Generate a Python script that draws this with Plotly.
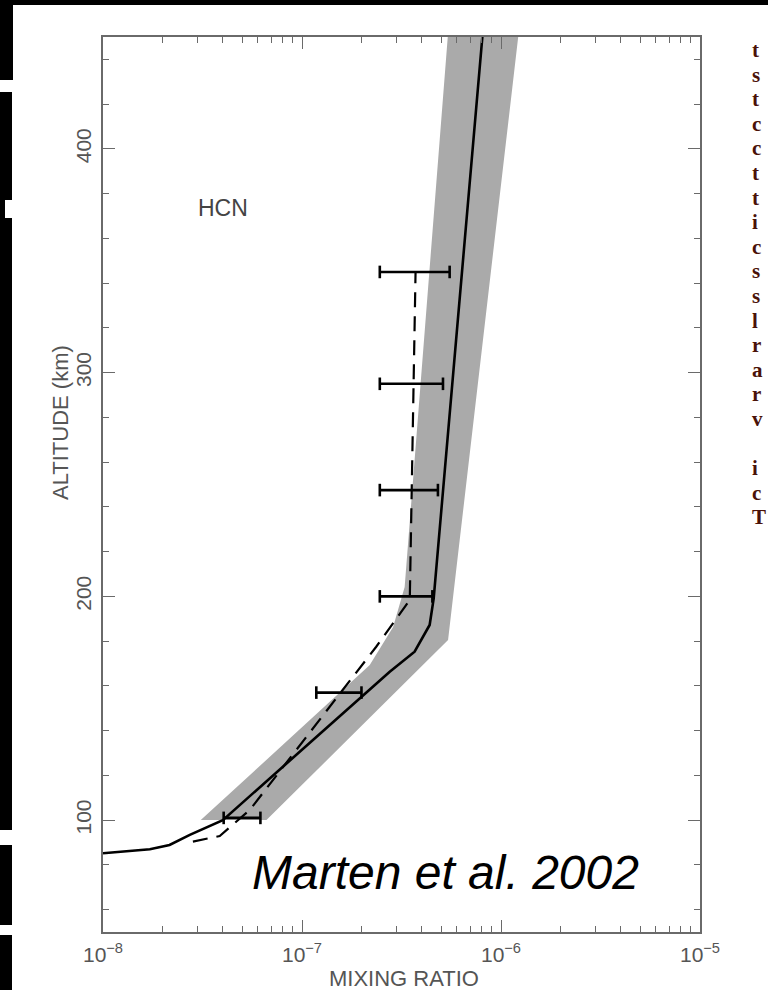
import plotly.graph_objects as go

# ---------------- data ----------------
# model profile (solid)
MODEL_ALT = [85.2, 87.0, 88.9, 93.4, 100.0, 166.3, 175.3, 187.2, 199.1, 450.0]
MODEL_X = [1.0e-8, 1.72e-8, 2.16e-8, 2.73e-8, 4.0e-8, 2.76e-7, 3.68e-7, 4.38e-7, 4.59e-7, 8.06e-7]

# retrieved profile (dashed)
DASH_ALT = [90.4, 92.9, 104.5, 177.5, 198.4, 344.5]
DASH_X = [2.83e-8, 3.86e-8, 5.46e-8, 2.36e-7, 3.48e-7, 3.72e-7]

# uncertainty envelope (grey band)
BAND_LEFT_ALT = [100.0, 169.3, 186.3, 204.2, 450.0]
BAND_LEFT_X = [3.1e-8, 2.19e-7, 2.87e-7, 3.28e-7, 5.4e-7]
BAND_RIGHT_ALT = [100.0, 180.5, 450.0]
BAND_RIGHT_X = [6.63e-8, 5.42e-7, 1.22e-6]

# horizontal error bars
EB_ALT = [345.0, 295.0, 247.5, 200.0, 157.0, 101.0]
EB_LO = [2.46e-7, 2.46e-7, 2.46e-7, 2.46e-7, 1.18e-7, 4.04e-8]
EB_HI = [5.52e-7, 5.11e-7, 4.82e-7, 4.52e-7, 1.99e-7, 6.18e-8]

X_TICKVALS = [1e-8, 1e-7, 1e-6, 1e-5]
X_TICKTEXT = ["10<sup>\u22128</sup>", "10<sup>\u22127</sup>", "10<sup>\u22126</sup>", "10<sup>\u22125</sup>"]
Y_TICKVALS = [100, 200, 300, 400]
Y_TICKTEXT = ["100", "200", "300", "400"]

# fragments of the cut-off text column at the right edge
RIGHT_LETTERS = ["t", "s", "t", "c", "c", "t", "t", "i", "c", "s", "s", "l", "r", "a", "r", "v", "", "i", "c", "T"]

# ---------------- layout geometry ----------------
W, H = 768, 990
L, R, T, B = 103, 68, 37, 58
PW, PH = W - L - R, H - T - B


def px(xp):
    return (xp - L) / PW


def py(yp):
    return (H - B - yp) / PH


AXC = "#6a6a6a"
TXC = "#555555"
FONT = "Liberation Sans, Arial, Helvetica, sans-serif"

fig = go.Figure()

# grey band
fig.add_trace(go.Scatter(
    x=BAND_LEFT_X + BAND_RIGHT_X[::-1],
    y=BAND_LEFT_ALT + BAND_RIGHT_ALT[::-1],
    mode="lines", fill="toself", fillcolor="#aaaaaa",
    line=dict(width=0, color="#aaaaaa"), hoverinfo="skip", showlegend=False))

# dashed profile
fig.add_trace(go.Scatter(
    x=DASH_X, y=DASH_ALT, mode="lines",
    line=dict(color="black", width=2.2, dash="15px,9px"), showlegend=False))

# solid profile
fig.add_trace(go.Scatter(
    x=MODEL_X, y=MODEL_ALT, mode="lines",
    line=dict(color="black", width=2.6), showlegend=False))

# error bars with caps
ebx, eby = [], []
for a, lo, hi in zip(EB_ALT, EB_LO, EB_HI):
    ebx += [lo, hi, None]
    eby += [a, a, None]
fig.add_trace(go.Scatter(
    x=ebx, y=eby, mode="lines+markers",
    line=dict(color="black", width=2.6),
    marker=dict(symbol="line-ns", size=9, line=dict(color="black", width=2.6)),
    showlegend=False))

minor_x = [m * 10.0 ** e for e in (-8, -7, -6) for m in range(2, 10)]
minor_y = [v for v in range(60, 451, 20) if v % 100 != 0]

fig.update_xaxes(
    type="log", range=[-8, -5], automargin=False,
    tickvals=X_TICKVALS, ticktext=X_TICKTEXT,
    ticks="inside", ticklen=12, tickwidth=1.4, tickcolor=AXC,
    showline=True, linecolor=AXC, linewidth=1.6, mirror="allticks",
    showgrid=False, zeroline=False, ticklabelstandoff=3,
    tickfont=dict(family=FONT, size=21, color=TXC),
    minor=dict(tickvals=minor_x, ticks="inside", ticklen=6, tickwidth=1.2, tickcolor=AXC, showgrid=False),
)
fig.update_yaxes(
    range=[50, 450], automargin=False,
    tickvals=Y_TICKVALS, ticktext=Y_TICKTEXT, tickangle=-90,
    ticks="inside", ticklen=12, tickwidth=1.4, tickcolor=AXC,
    showline=True, linecolor=AXC, linewidth=1.6, mirror="allticks",
    showgrid=False, zeroline=False, ticklabelstandoff=2,
    tickfont=dict(family=FONT, size=21, color=TXC),
    minor=dict(tickvals=minor_y, ticks="inside", ticklen=6, tickwidth=1.2, tickcolor=AXC, showgrid=False),
)

annotations = [
    dict(text="MIXING RATIO", xref="paper", yref="paper", x=px(404), y=py(978),
         xanchor="center", yanchor="middle", showarrow=False,
         font=dict(family=FONT, size=22, color=TXC)),
    dict(text="ALTITUDE (km)", xref="paper", yref="paper", x=px(60), y=py(423),
         xanchor="center", yanchor="middle", textangle=-90, showarrow=False,
         font=dict(family=FONT, size=22, color=TXC)),
    dict(text="HCN", xref="paper", yref="paper", x=px(223), y=py(208),
         xanchor="center", yanchor="middle",
         showarrow=False, font=dict(family=FONT, size=23, color="#444444")),
    dict(text="<i>Marten et al. 2002</i>", xref="paper", yref="paper", x=px(445), y=py(901),
         xanchor="center", yanchor="bottom",
         showarrow=False, font=dict(family=FONT, size=48, color="black")),
]
for i, ch in enumerate(RIGHT_LETTERS):
    if not ch:
        continue
    annotations.append(dict(
        text="<b>" + ch + "</b>", xref="paper", yref="paper", x=px(750), y=py(50 + 24.6 * i),
        xanchor="left", yanchor="middle", showarrow=False,
        font=dict(family="Liberation Serif, Times New Roman, serif", size=21, color="#4a1208")))

# black border fragments of the page scan
BLK = dict(fillcolor="black", line=dict(width=0), layer="above")
shapes = [
    dict(type="rect", xref="paper", yref="paper", x0=px(0), x1=px(W), y0=py(0), y1=py(5), **BLK),
    dict(type="rect", xref="paper", yref="paper", x0=px(0), x1=px(13), y0=py(0), y1=py(80), **BLK),
    dict(type="rect", xref="paper", yref="paper", x0=px(0), x1=px(12), y0=py(92), y1=py(830), **BLK),
    dict(type="rect", xref="paper", yref="paper", x0=px(0), x1=px(12), y0=py(845), y1=py(925), **BLK),
    dict(type="rect", xref="paper", yref="paper", x0=px(0), x1=px(12), y0=py(935), y1=py(990), **BLK),
    dict(type="rect", xref="paper", yref="paper", x0=px(5), x1=px(12), y0=py(200), y1=py(218),
         fillcolor="white", line=dict(width=0), layer="above"),
]

fig.update_layout(
    width=W, height=H, margin=dict(l=L, r=R, t=T, b=B),
    paper_bgcolor="white", plot_bgcolor="white",
    annotations=annotations, shapes=shapes, showlegend=False,
)

fig.write_html("out.html")
